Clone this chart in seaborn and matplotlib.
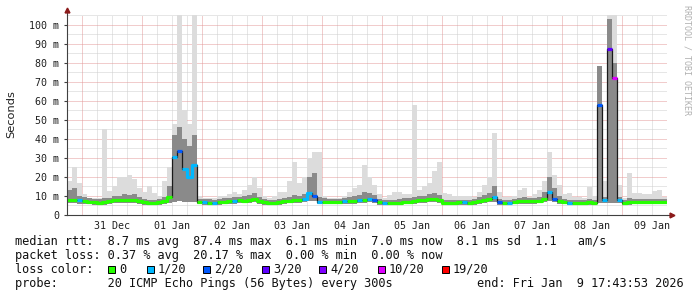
import numpy as np
import pandas as pd
import matplotlib
matplotlib.use("Agg")
import matplotlib.pyplot as plt
import seaborn as sns
from matplotlib.patches import Rectangle

# ---------------- data (2-hour bins, Dec 30 18:00 -> Jan 9 18:00) ----------------
day_labels = ["31 Dec", "01 Jan", "02 Jan", "03 Jan", "04 Jan",
              "05 Jan", "06 Jan", "07 Jan", "08 Jan", "09 Jan"]

median_ms = [7.8, 7.8, 7.8,
             7.4, 7.0, 6.8, 6.5, 6.7, 7.2, 7.7, 7.9, 7.8, 7.8, 7.8, 7.3,
             6.8, 6.2, 6.3, 6.6, 7.3, 9.5, 30.5, 33.5, 24.0, 20.0, 26.5, 7.0,
             6.8, 6.5, 6.2, 6.7, 7.0, 7.2, 7.5, 7.7, 7.6, 8.0, 8.6, 7.5,
             6.8, 6.3, 6.2, 6.8, 7.2, 7.6, 7.8, 7.8, 8.2, 11.5, 10.0, 7.0,
             7.0, 7.0, 7.0, 7.0, 7.2, 7.3, 7.3, 7.8, 7.8, 8.3, 8.0, 6.8,
             6.5, 6.2, 6.2, 6.5, 7.0, 7.0, 7.5, 7.8, 7.8, 8.6, 8.4, 7.8,
             6.5, 6.5, 6.5, 6.6, 6.6, 6.5, 6.6, 7.2, 7.8, 8.2, 9.5, 6.8,
             6.4, 6.3, 7.0, 7.2, 7.3, 7.3, 7.5, 7.6, 8.5, 12.0, 8.6, 7.4,
             7.0, 6.2, 6.5, 6.5, 6.5, 6.7, 6.5, 58.0, 8.0, 87.0, 72.0, 7.8,
             6.2, 6.8, 7.0, 7.0, 7.0, 7.0, 7.0, 7.0, 7.0]

loss_20 = [0, 0, 1,
           0, 0, 0, 0, 0, 0, 0, 0, 0, 0, 0, 0,
           0, 0, 0, 0, 0, 0, 1, 2, 1, 1, 1, 0,
           1, 0, 1, 0, 0, 0, 1, 0, 0, 0, 0, 0,
           0, 0, 0, 0, 0, 0, 0, 0, 1, 1, 2, 1,
           0, 0, 0, 0, 1, 0, 0, 1, 0, 1, 2, 0,
           1, 0, 0, 0, 0, 0, 0, 0, 0, 0, 0, 0,
           0, 0, 0, 0, 1, 0, 0, 0, 0, 0, 1, 2,
           0, 1, 0, 0, 0, 0, 0, 0, 0, 1, 2, 0,
           0, 1, 0, 0, 0, 0, 0, 2, 1, 3, 10, 1,
           0, 0, 0, 0, 0, 0, 0, 0, 0]

smoke_max = [18, 25, 17,
             11, 9, 9, 9, 45, 12.7, 15, 20, 20, 21, 19, 14,
             12, 15, 11.5, 10, 18, 25, 48, 105, 55, 48, 105, 10,
             9, 9, 9, 10, 10, 11, 12, 11, 13, 16, 20, 14,
             10, 9, 10, 12, 12, 18, 28, 17, 20, 30, 33, 33,
             10, 9, 9, 9, 10, 12, 14, 16, 26, 20, 16, 11,
             9, 10.5, 12, 12, 11, 11, 58, 13, 15, 17, 23, 28,
             11.5, 11, 10, 10, 10, 10, 9.5, 12, 16, 20, 43, 12,
             9.5, 9.5, 10, 13, 14, 9.5, 11, 13, 18, 33, 21, 16,
             11, 11.5, 9.5, 9.5, 9, 14.8, 10, 78, 18, 105, 105, 15.7,
             9, 22, 11.5, 11.5, 11, 11, 12.6, 13, 9.5]

smoke_hi = [13, 14, 10,
            9.5, 9, 8.5, 8.5, 9, 9, 10, 10, 11, 10.5, 11, 9.5,
            8.5, 8, 8, 8.5, 9.5, 15, 42, 46, 40, 36, 42, 8.5,
            8.5, 8.5, 8, 8.5, 9, 9, 9.5, 9.5, 10, 10.5, 11.5, 9.5,
            8.5, 8, 8, 8.5, 9, 9.5, 10.5, 10, 11, 20, 22, 9.5,
            9, 8.5, 8.5, 8.5, 9, 9.5, 10, 10.5, 12, 11.5, 10.5, 8.5,
            8, 8, 8, 8.5, 9, 9, 9.5, 10, 10, 11, 11.5, 10.5,
            8, 8, 8, 8, 8, 8, 8.5, 9.5, 10.5, 11.5, 15, 8.5,
            8, 8, 8.5, 9, 9.5, 9, 9, 9.5, 12, 20, 14, 10,
            8.5, 8, 8, 8, 8, 8.5, 8, 78, 9.5, 103, 80, 9.5,
            8, 9, 8.5, 8.5, 8.5, 8.5, 8.5, 8.5, 8.5]

smoke_lo = [6.2, 6.2, 6.0,
            6.0, 5.6, 5.4, 5.2, 5.3, 5.8, 6.2, 6.4, 6.3, 6.3, 6.3, 5.9,
            5.4, 5.0, 5.0, 5.2, 5.8, 6.5, 7.0, 7.5, 7.0, 7.0, 7.0, 5.6,
            5.4, 5.2, 5.0, 5.3, 5.6, 5.8, 6.0, 6.2, 6.2, 6.5, 7.0, 6.0,
            5.4, 5.0, 5.0, 5.4, 5.8, 6.1, 6.3, 6.3, 6.6, 7.5, 7.5, 5.6,
            5.6, 5.6, 5.6, 5.6, 5.8, 5.9, 5.9, 6.3, 6.3, 6.7, 6.5, 5.4,
            5.2, 5.0, 5.0, 5.2, 5.6, 5.6, 6.0, 6.3, 6.2, 7.0, 6.8, 6.3,
            5.2, 5.2, 5.2, 5.3, 5.3, 5.2, 5.3, 5.8, 6.3, 6.6, 7.0, 5.4,
            5.1, 5.0, 5.6, 5.8, 5.9, 5.9, 6.0, 6.1, 6.8, 7.5, 6.9, 6.0,
            5.6, 5.0, 5.2, 5.2, 5.2, 5.4, 5.2, 6.5, 6.4, 6.5, 6.5, 6.3,
            5.0, 5.4, 5.6, 5.6, 5.6, 5.6, 5.6, 5.6, 5.6]

loss_levels = [0, 1, 2, 3, 4, 10, 19]
loss_labels = ["0", "1/20", "2/20", "3/20", "4/20", "10/20", "19/20"]
loss_colors = ["#26ff00", "#00b8ff", "#0059ff", "#5e00ff", "#7e00ff", "#dd00ff", "#ff0000"]

y_ticks = [0, 10, 20, 30, 40, 50, 60, 70, 80, 90, 100]
y_tick_labels = ["0", "10 m", "20 m", "30 m", "40 m", "50 m",
                 "60 m", "70 m", "80 m", "90 m", "100 m"]

rtt_line = "median rtt:  8.7 ms avg  87.4 ms max  6.1 ms min  7.0 ms now  8.1 ms sd  1.1   am/s"
loss_line = "packet loss: 0.37 % avg  20.17 % max  0.00 % min  0.00 % now"
probe_line = "probe:       20 ICMP Echo Pings (56 Bytes) every 300s"
end_line = "end: Fri Jan  9 17:43:53 2026"

# ---------------- figure ----------------
sns.set_style("white")
plt.rcParams['font.family'] = ['DejaVu Sans Mono', 'DejaVu Sans']

W, H = 697, 297
fig = plt.figure(figsize=(W / 100, H / 100), dpi=100)
fig.patch.set_facecolor("white")

def fx(px):
    return px / W

def fy(py):
    return 1 - py / H

ax_l, ax_r, ax_t, ax_b = 67, 667, 15, 215
ax = fig.add_axes([fx(ax_l), fy(ax_b), (ax_r - ax_l) / W, (ax_b - ax_t) / H])
ax.set_facecolor("white")
x0, x1 = -0.25, 9.75
ymax = 105
ax.set_xlim(x0, x1)
ax.set_ylim(0, ymax)

# grid
dot = (0, (1, 1))
for v in np.arange(5, ymax + 0.1, 10):
    ax.axhline(v, color="#cfcfcf", lw=0.72, ls=dot, zorder=1)
for v in np.arange(10, ymax, 10):
    ax.axhline(v, color="#e49a9a", lw=0.72, ls=dot, zorder=1.2)
for k in range(40):
    v = x0 + 0.25 * k
    if v <= x0:
        continue
    if abs(v - round(v)) < 1e-6:
        ax.axvline(v, color="#e49a9a", lw=0.72, ls=dot, zorder=1.2)
    else:
        ax.axvline(v, color="#cfcfcf", lw=0.72, ls=dot, zorder=1)

# data series on 2-hour bins
n = len(median_ms)
edges = x0 + np.arange(n + 1) / 12.0

def ext(a):
    a = np.asarray(a, dtype=float)
    return np.append(a, a[-1])

med = np.asarray(median_ms, float)
loss = np.asarray(loss_20)

ax.fill_between(edges, ext(smoke_lo), ext(smoke_max), step="post",
                color="#dcdcdc", lw=0, zorder=2)
ax.fill_between(edges, ext(smoke_lo), ext(smoke_hi), step="post",
                color="#8a8a8a", lw=0, zorder=3)

df = pd.DataFrame({"t": edges, "ms": ext(med)})
sns.lineplot(data=df, x="t", y="ms", drawstyle="steps-post", color="#1a1a1a",
             lw=0.9, ax=ax, zorder=4)

for lvl, col in zip(loss_levels, loss_colors):
    yy = np.where(loss == lvl, med, np.nan)
    ax.plot(edges, ext(yy), drawstyle="steps-post", color=col, lw=2.3,
            solid_capstyle="butt", zorder=5)

ax.set_xlim(x0, x1)
ax.set_ylim(0, ymax)
ax.set_xlabel("")
ax.set_ylabel("")

# axes / ticks
for s in ["top", "right"]:
    ax.spines[s].set_visible(False)
for s in ["left", "bottom"]:
    ax.spines[s].set_color("#404040")
    ax.spines[s].set_linewidth(0.8)
    ax.spines[s].set_zorder(6)

ax.set_yticks(y_ticks)
ax.set_yticklabels(y_tick_labels)
ax.set_xticks(np.arange(10) + 0.5)
ax.set_xticklabels(day_labels)
ax.tick_params(axis="y", length=2, width=0.8, color="#404040", pad=3.5,
               labelsize=7.2, labelcolor="#202020", left=True)
ax.tick_params(axis="x", length=0, pad=4.5, labelsize=7.2, labelcolor="#202020")

# axis arrows
arrow_col = "#8b1a1a"
ax.plot([0, 0], [1, 1.02], transform=ax.transAxes, color="#404040", lw=0.8, clip_on=False)
ax.plot([1, 1.006], [0, 0], transform=ax.transAxes, color="#404040", lw=0.8, clip_on=False)
ax.plot(0, 1.025, marker="^", ms=3.5, color=arrow_col, transform=ax.transAxes, clip_on=False)
ax.plot(1.009, 0, marker=">", ms=3.5, color=arrow_col, transform=ax.transAxes, clip_on=False)

# y label and watermark
fig.text(fx(11), fy(114), "Seconds", rotation=90, ha="center", va="center",
         fontsize=8.2, family="DejaVu Sans", color="#202020")
fig.text(fx(687), fy(5), "RRDTOOL / TOBI OETIKER", rotation=270, ha="center", va="top",
         fontsize=6.0, color="#b0b0b0")

# legend block
lfs = 8.55
fig.text(fx(15), fy(245), rtt_line, fontsize=lfs, ha="left", va="baseline", color="#101010")
fig.text(fx(15), fy(259), loss_line, fontsize=lfs, ha="left", va="baseline", color="#101010")
fig.text(fx(15), fy(273), "loss color:", fontsize=lfs, ha="left", va="baseline", color="#101010")
sq_x = [108, 147, 203, 262, 319, 378, 442]
for sx, lab, col in zip(sq_x, loss_labels, loss_colors):
    fig.add_artist(Rectangle((fx(sx), fy(273)), 7 / W, 7 / H, transform=fig.transFigure,
                             facecolor=col, edgecolor="#000000", lw=0.7))
    fig.text(fx(sx + 11), fy(273), lab, fontsize=lfs, ha="left", va="baseline", color="#101010")
fig.text(fx(15), fy(287), probe_line, fontsize=lfs, ha="left", va="baseline", color="#101010")
fig.text(fx(477), fy(287), end_line, fontsize=lfs, ha="left", va="baseline", color="#101010")

fig.savefig("out.png", dpi=100, facecolor="white")
